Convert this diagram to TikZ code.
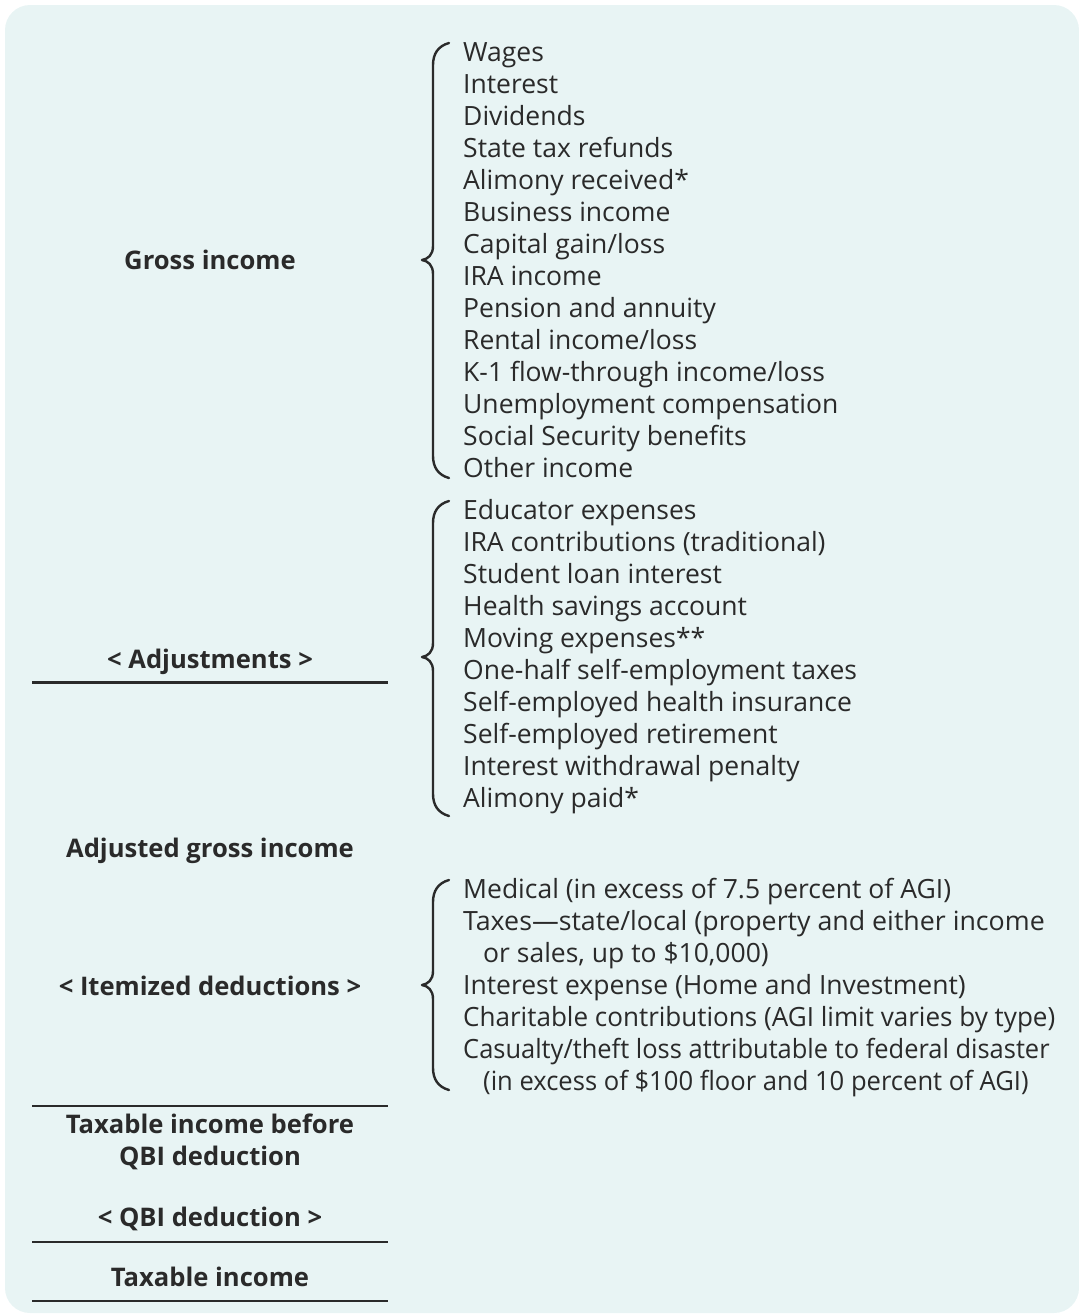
\documentclass[tikz,border=0pt]{standalone}
\usepackage{fontspec}
\usepackage{graphicx}
\setmainfont{Open Sans}
\definecolor{bgmint}{HTML}{E8F4F4}
\definecolor{ink}{HTML}{2A2A2A}
\tikzset{
  item/.style={anchor=base west, inner sep=0pt, text=ink, font=\fontsize{26.5}{32}\selectfont},
  lbl/.style={anchor=base, inner sep=0pt, text=ink, font=\fontsize{25.6}{32}\selectfont\bfseries, align=center},
  rule/.style={line width=2.5pt, draw=ink},
  bracepath/.style={line width=2.4pt, draw=ink, line cap=round, line join=round}
}
\newcommand{\mybrace}[3]{% top, tip, bottom
  \draw[bracepath] (449,#1) .. controls (438,#1+3) and (433,#1+11) .. (433,#1+22)
    -- (433,#2-14) .. controls (433,#2-5) and (428,#2-1) .. (422,#2)
    .. controls (428,#2+1) and (433,#2+5) .. (433,#2+14)
    -- (433,#3-22) .. controls (433,#3-11) and (438,#3-3) .. (449,#3);}
\begin{document}
\begin{tikzpicture}[x=1pt,y=-1pt]
\useasboundingbox (0,0) rectangle (1079,1315);
\fill[bgmint, rounded corners=25pt] (5,5) rectangle (1079,1313);

% gross income items
\foreach \t [count=\i from 0] in {Wages,Interest,Dividends,State tax refunds,Alimony received*,Business income,Capital gain/loss,IRA income,Pension and annuity,Rental income/loss,K-1 flow-through income/loss,Unemployment compensation,Social Security benefits,Other income}
  \node[item] (g\i) at (463,61+32*\i) {\t};

% adjustments items
\foreach \t [count=\i from 0] in {Educator expenses,IRA contributions (traditional),Student loan interest,Health savings account,Moving expenses**,One-half self-employment taxes,Self-employed health insurance,Self-employed retirement,Interest withdrawal penalty,Alimony paid*}
  \node[item] (a\i) at (463,519+32*\i) {\t};

% itemized deductions
\node[item] (d0) at (463,898) {Medical (in excess of 7.5 percent of AGI)};
\node[item] (d1) at (463,930) {\scalebox{1.01}[1]{Taxes---state/local (property and either income}};
\node[item] (d2) at (483,962) {or sales, up to \$10,000)};
\node[item] (d3) at (463,994) {Interest expense (Home and Investment)};
\node[item] (d4) at (463,1026) {\scalebox{0.983}[1]{Charitable contributions (AGI limit varies by type)}};
\node[item] (d5) at (463,1058) {\scalebox{0.96}[1]{Casualty/theft loss attributable to federal disaster}};
\node[item] (d6) at (483,1090) {\scalebox{0.965}[1]{(in excess of \$100 floor and 10 percent of AGI)}};

% braces
\mybrace{43}{260}{478}
\mybrace{501}{657}{816}
\mybrace{880}{985}{1090}

% left column
\node[lbl] (gi) at (210,269) {Gross income};
\node[lbl] (adj) at (210,668) {< Adjustments >};
\node[lbl] (agi) at (210,857) {Adjusted gross income};
\node[lbl] (itm) at (210,995) {< Itemized deductions >};
\node[lbl] (tib1) at (210,1133) {Taxable income before};
\node[lbl] (tib2) at (210,1165) {QBI deduction};
\node[lbl] (qbi) at (210,1226) {< QBI deduction >};
\node[lbl] (ti) at (210,1286) {Taxable income};

\coordinate (r1a) at (32,682.5); \coordinate (r1b) at (388,682.5);
\coordinate (r2a) at (32,1106); \coordinate (r2b) at (388,1106);
\coordinate (r3a) at (32,1242); \coordinate (r3b) at (388,1242);
\coordinate (r4a) at (32,1301); \coordinate (r4b) at (388,1301);
\draw[rule] (r1a) -- (r1b);
\draw[rule] (r2a) -- (r2b);
\draw[rule] (r3a) -- (r3b);
\draw[rule] (r4a) -- (r4b);
\end{tikzpicture}
\end{document}
